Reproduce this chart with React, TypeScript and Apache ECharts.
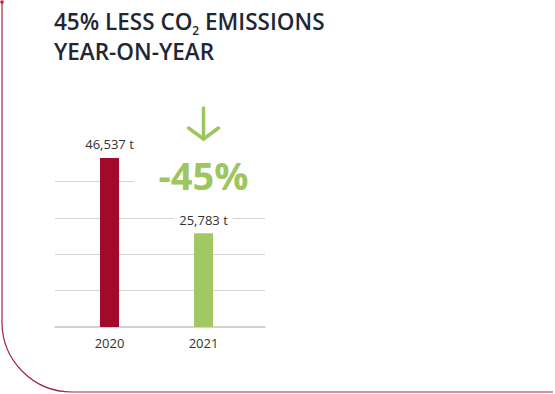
import React, { useEffect, useRef } from "react";
import * as echarts from "echarts";

const years = ["2020", "2021"];
const emissions = [46537, 25783];
const barColors = ["#a10a2b", "#a2c863"];
const changeLabel = "-45%";
const titleLine1a = "45% LESS CO";
const titleSub = "2";
const titleLine1b = " EMISSIONS";
const titleLine2 = "YEAR-ON-YEAR";

const fmt = (v: number) => v.toLocaleString("en-US") + " t";

export default function App() {
  const ref = useRef<HTMLDivElement>(null);
  useEffect(() => {
    const chart = echarts.init(ref.current!, null, { renderer: "svg" });
    const green = "#9dc65f";
    const frame = "#a8223f";
    chart.setOption({
      animation: false,
      backgroundColor: "#ffffff",
      textStyle: { fontFamily: "Open Sans" },
      title: {
        left: 54,
        top: 6,
        padding: 0,
        text: `{a|${titleLine1a}}{s|${titleSub}}{a|${titleLine1b}}\n{a|${titleLine2}}`,
        textStyle: {
          rich: {
            a: { fontFamily: "Open Sans", fontSize: 22.5, fontWeight: 600, color: "#1f2635", lineHeight: 30 },
            s: { fontFamily: "Open Sans", fontSize: 12, fontWeight: 600, color: "#1f2635", lineHeight: 8, verticalAlign: "bottom" },
          },
        },
      },
      grid: { left: 55, right: 290, top: 145.4, bottom: 67 },
      xAxis: {
        type: "value",
        min: -0.58,
        max: 1.654,
        splitLine: { show: false },
        axisTick: { show: false },
        axisLine: { show: true, onZero: false, lineStyle: { color: "#c4c4c4", width: 1.5 } },
        axisLabel: {
          customValues: [0, 1],
          formatter: (v: number) => years[Math.round(v)] ?? "",
          color: "#333333",
          fontSize: 13,
          margin: 9,
          fontFamily: "Open Sans",
        },
      },
      yAxis: {
        type: "value",
        min: 0,
        max: 50000,
        interval: 10000,
        axisLine: { show: false },
        axisTick: { show: false },
        axisLabel: { show: false },
        splitLine: {
          lineStyle: {
            color: ["transparent", "#d3d3d3", "#d3d3d3", "#d3d3d3", "#d3d3d3", "transparent"],
            width: 1,
          },
        },
      },
      series: [
        {
          type: "bar",
          barWidth: 19,
          data: emissions.map((v, i) => ({
            value: [i, v],
            itemStyle: { color: barColors[i] },
          })),
          label: {
            show: true,
            position: "top",
            distance: 6,
            formatter: (p: any) => fmt(p.value[1]),
            color: "#333333",
            fontSize: 13,
            fontFamily: "Open Sans",
            backgroundColor: "#ffffff",
            padding: [1, 5],
          },
          z: 3,
        },
      ],
    });
    const p = chart.convertToPixel({ gridIndex: 0 }, [1, 0]) as number[];
    const cx = p[0];
    chart.setOption({
      graphic: [
        {
          type: "line",
          shape: { x1: 2, y1: 2, x2: 2, y2: 322 },
          style: { stroke: frame, lineWidth: 1.2 },
        },
        {
          type: "arc",
          shape: { cx: 72, cy: 322, r: 70, startAngle: Math.PI / 2, endAngle: Math.PI, clockwise: true },
          style: { stroke: frame, lineWidth: 1.2, fill: "none" },
        },
        {
          type: "line",
          shape: { x1: 72, y1: 392, x2: 553, y2: 392 },
          style: { stroke: frame, lineWidth: 1.2 },
        },
        {
          type: "rect",
          shape: { x: 0.5, y: 0.5, width: 3, height: 3 },
          style: { fill: "#c0102e" },
        },
        {
          type: "rect",
          shape: { x: 134, y: 160, width: 135, height: 32 },
          style: { fill: "#ffffff" },
          z: 10,
        },
        {
          type: "text",
          x: cx,
          y: 175,
          z: 11,
          style: {
            text: changeLabel,
            fill: green,
            font: "bold 38px 'Open Sans'",
            textAlign: "center",
            textVerticalAlign: "middle",
          },
        },
        {
          type: "polyline",
          z: 11,
          shape: { points: [[cx - 15, 128], [cx, 139], [cx + 15, 128]] },
          style: { stroke: green, lineWidth: 3.5, fill: "none", lineCap: "round", lineJoin: "round" },
        },
        {
          type: "line",
          z: 11,
          shape: { x1: cx, y1: 108, x2: cx, y2: 139 },
          style: { stroke: green, lineWidth: 3.5, lineCap: "round" },
        },
      ],
    });
    return () => chart.dispose();
  }, []);
  return <div ref={ref} style={{ width: 555, height: 394, position: "absolute", left: 0, top: 0 }} />;
}
